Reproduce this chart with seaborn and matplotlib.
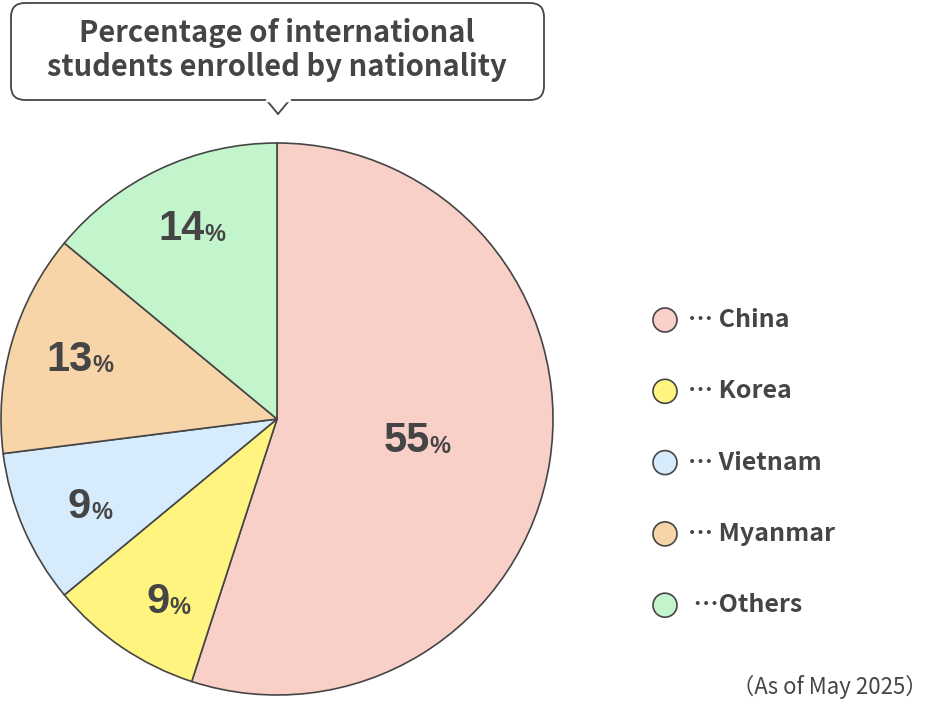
import numpy as np
import matplotlib
matplotlib.use('Agg')
import matplotlib.pyplot as plt
import seaborn as sns
from matplotlib.patches import FancyBboxPatch, Polygon, Circle

countries = ['China', 'Korea', 'Vietnam', 'Myanmar', 'Others']
shares = [55, 9, 9, 13, 14]
legend_labels = ['… China', '… Korea', '… Vietnam', '… Myanmar', ' …Others']
colors = ['#F8D0C8', '#FFF47F', '#D6EBFC', '#F8D5A8', '#C3F5CD']
label_dist = [0.5, 0.8, 0.8, 0.76, 0.76]

sns.set_theme(style='white')
plt.rcParams['font.family'] = ['Noto Sans CJK JP', 'DejaVu Sans']
ink = '#454545'
numfont = ['Liberation Sans', 'DejaVu Sans']

W, H = 936, 712
fig = plt.figure(figsize=(W / 100, H / 100), dpi=100)
fig.patch.set_facecolor('white')

# pie axes: centre (277, 419), radius 276 px
cx, cy, r = 277, 419, 276
ax = fig.add_axes([(cx - r) / W, (H - cy - r) / H, 2 * r / W, 2 * r / H])
wedges, _ = ax.pie(shares, colors=colors, startangle=90, counterclock=False,
                   wedgeprops=dict(edgecolor=ink, linewidth=1.2))
ax.set_xlim(-1, 1)
ax.set_ylim(-1, 1)
ax.set_aspect('equal')
ax.axis('off')

for w, s, d in zip(wedges, shares, label_dist):
    ang = np.deg2rad((w.theta1 + w.theta2) / 2)
    x, y = d * np.cos(ang), d * np.sin(ang)
    ax.text(x + 0.06, y, str(s), ha='right', va='center', fontsize=30,
            fontweight='bold', color=ink, family=numfont)
    ax.text(x + 0.06, y - 0.02, '%', ha='left', va='center', fontsize=17,
            fontweight='bold', color=ink, family=numfont)

# title speech bubble
ov = fig.add_axes([0, 0, 1, 1])
ov.set_xlim(0, W)
ov.set_ylim(H, 0)
ov.axis('off')
ov.patch.set_alpha(0)
box = FancyBboxPatch((11, 3), 533, 97, boxstyle='round,pad=0,rounding_size=14',
                     facecolor='white', edgecolor=ink, linewidth=1.3)
ov.add_patch(box)
ov.add_patch(Polygon([[266, 99.5], [278, 114], [290, 99.5]], closed=False,
                     facecolor='white', edgecolor=ink, linewidth=1.3))
ov.plot([267, 289], [100, 100], color='white', linewidth=2.5)
ov.text(277, 50, 'Percentage of international\nstudents enrolled by nationality',
        ha='center', va='center', fontsize=21, fontweight='bold', color=ink,
        linespacing=1.15)

# legend
for i, (lab, c) in enumerate(zip(legend_labels, colors)):
    y = 320 + i * 71.3
    ov.add_patch(Circle((665, y), 12, facecolor=c, edgecolor=ink, linewidth=1.2))
    ov.text(688, y, lab, ha='left', va='center', fontsize=18,
            fontweight='bold', color=ink)

ov.text(928, 687, '（As of May 2025）', ha='right', va='center', fontsize=16,
        color=ink)

fig.savefig('out.png', dpi=100)
